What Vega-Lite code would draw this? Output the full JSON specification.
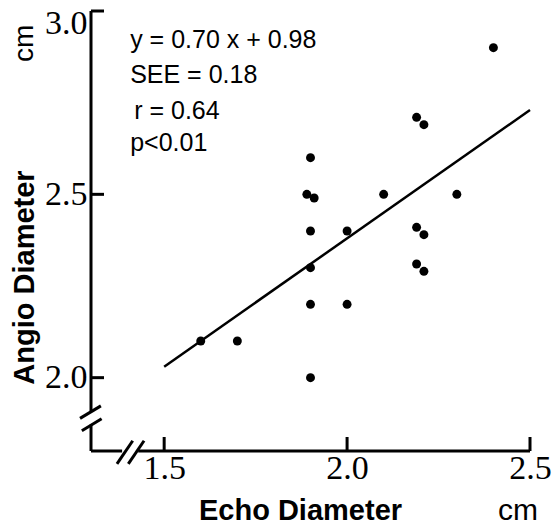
{
  "$schema": "https://vega.github.io/schema/vega-lite/v6.json",
  "width": 439,
  "height": 440,
  "autosize": "none",
  "padding": {"left": 91, "top": 11, "right": 26, "bottom": 75},
  "config": {"view": {"stroke": null}, "font": "Liberation Sans"},
  "datasets": {
    "points": [
      {"x": 2.40, "y": 2.90}, {"x": 2.19, "y": 2.71}, {"x": 2.21, "y": 2.69},
      {"x": 1.90, "y": 2.60}, {"x": 1.89, "y": 2.50}, {"x": 1.91, "y": 2.49},
      {"x": 2.10, "y": 2.50}, {"x": 2.30, "y": 2.50}, {"x": 1.90, "y": 2.40},
      {"x": 2.00, "y": 2.40}, {"x": 2.19, "y": 2.41}, {"x": 2.21, "y": 2.39},
      {"x": 1.90, "y": 2.30}, {"x": 2.19, "y": 2.31}, {"x": 2.21, "y": 2.29},
      {"x": 1.90, "y": 2.20}, {"x": 2.00, "y": 2.20}, {"x": 1.60, "y": 2.10},
      {"x": 1.70, "y": 2.10}, {"x": 1.90, "y": 2.00}
    ],
    "fit": [{"x": 1.5, "y": 2.03}, {"x": 2.5, "y": 2.73}],
    "axislines": [
      {"x": 1.3, "y": 3.0, "x2": 1.3, "y2": 1.907},
      {"x": 1.3, "y": 1.872, "x2": 1.3, "y2": 1.8},
      {"x": 1.3, "y": 1.8, "x2": 1.385, "y2": 1.8},
      {"x": 1.429, "y": 1.8, "x2": 2.5, "y2": 1.8},
      {"x": 1.270, "y": 1.889, "x2": 1.327, "y2": 1.923},
      {"x": 1.275, "y": 1.855, "x2": 1.329, "y2": 1.888},
      {"x": 1.371, "y": 1.765, "x2": 1.414, "y2": 1.828},
      {"x": 1.402, "y": 1.765, "x2": 1.445, "y2": 1.828}
    ],
    "xticks": [{"x": 1.5, "y": 1.8}, {"x": 2.0, "y": 1.8}, {"x": 2.5, "y": 1.8}],
    "yticks": [{"x": 1.3, "y": 2.0}, {"x": 1.3, "y": 2.5}, {"x": 1.3, "y": 3.0}],
    "notes": [
      {"x": 1.407, "y": 2.899, "label": "y = 0.70 x + 0.98"},
      {"x": 1.407, "y": 2.803, "label": "SEE = 0.18"},
      {"x": 1.418, "y": 2.705, "label": "r = 0.64"},
      {"x": 1.407, "y": 2.617, "label": "p<0.01"}
    ],
    "xunit": [{"x": 2.467, "y": 1.612, "label": "cm"}],
    "yunit": [{"x": 1.142, "y": 2.912, "label": "cm"}]
  },
  "encoding": {
    "x": {
      "field": "x", "type": "quantitative",
      "scale": {"domain": [1.3, 2.5], "nice": false, "zero": false},
      "axis": {
        "values": [1.5, 2.0, 2.5], "format": ".1f", "domain": false, "grid": false, "ticks": false,
        "labelFont": "Liberation Sans Narrow", "labelFontSize": 34, "labelColor": "black",
        "labelPadding": 0, "labelBaseline": "top", "labelFlush": false, "labelOverlap": false, "labelBound": false,
        "title": "Echo Diameter", "titleFont": "Liberation Sans", "titleFontWeight": "bold", "titleFontSize": 29,
        "titleColor": "black", "titleX": 209, "titleY": 68, "titleAlign": "center", "titleBaseline": "alphabetic"
      }
    },
    "y": {
      "field": "y", "type": "quantitative",
      "scale": {"domain": [1.8, 3.0], "nice": false, "zero": false},
      "axis": {
        "values": [2.0, 2.5, 3.0], "format": ".1f", "domain": false, "grid": false, "ticks": false,
        "labelFont": "Liberation Sans Narrow", "labelFontSize": 34, "labelColor": "black",
        "labelPadding": 4, "labelFlush": true, "labelFlushOffset": 5, "labelOverlap": false, "labelBound": false,
        "title": "Angio Diameter", "titleFont": "Liberation Sans", "titleFontWeight": "bold", "titleFontSize": 29,
        "titleColor": "black", "titleX": -58, "titleY": 266, "titleAngle": 270, "titleAlign": "center", "titleBaseline": "alphabetic"
      }
    }
  },
  "layer": [
    {
      "data": {"name": "axislines"},
      "mark": {"type": "rule", "strokeWidth": 3, "color": "black", "clip": false},
      "encoding": {"x2": {"field": "x2"}, "y2": {"field": "y2"}}
    },
    {
      "data": {"name": "xticks"},
      "mark": {"type": "tick", "orient": "vertical", "size": 14, "thickness": 3, "yOffset": -7, "color": "black", "opacity": 1, "clip": false},
      "encoding": {}
    },
    {
      "data": {"name": "yticks"},
      "mark": {"type": "tick", "orient": "horizontal", "size": 13, "thickness": 3, "xOffset": 6.5, "color": "black", "opacity": 1, "clip": false},
      "encoding": {}
    },
    {
      "data": {"name": "fit"},
      "mark": {"type": "line", "strokeWidth": 2.5, "color": "black"},
      "encoding": {}
    },
    {
      "data": {"name": "points"},
      "mark": {"type": "circle", "size": 80, "opacity": 1, "color": "black"},
      "encoding": {}
    },
    {
      "data": {"name": "notes"},
      "mark": {"type": "text", "align": "left", "baseline": "alphabetic", "fontSize": 25, "font": "Liberation Sans", "color": "black"},
      "encoding": {"text": {"field": "label"}}
    },
    {
      "data": {"name": "xunit"},
      "mark": {"type": "text", "align": "center", "baseline": "alphabetic", "fontSize": 30, "font": "Liberation Sans", "color": "black", "clip": false},
      "encoding": {"text": {"field": "label"}}
    },
    {
      "data": {"name": "yunit"},
      "mark": {"type": "text", "align": "center", "baseline": "alphabetic", "angle": 270, "fontSize": 28, "font": "Liberation Sans", "color": "black", "clip": false},
      "encoding": {"text": {"field": "label"}}
    }
  ]
}
